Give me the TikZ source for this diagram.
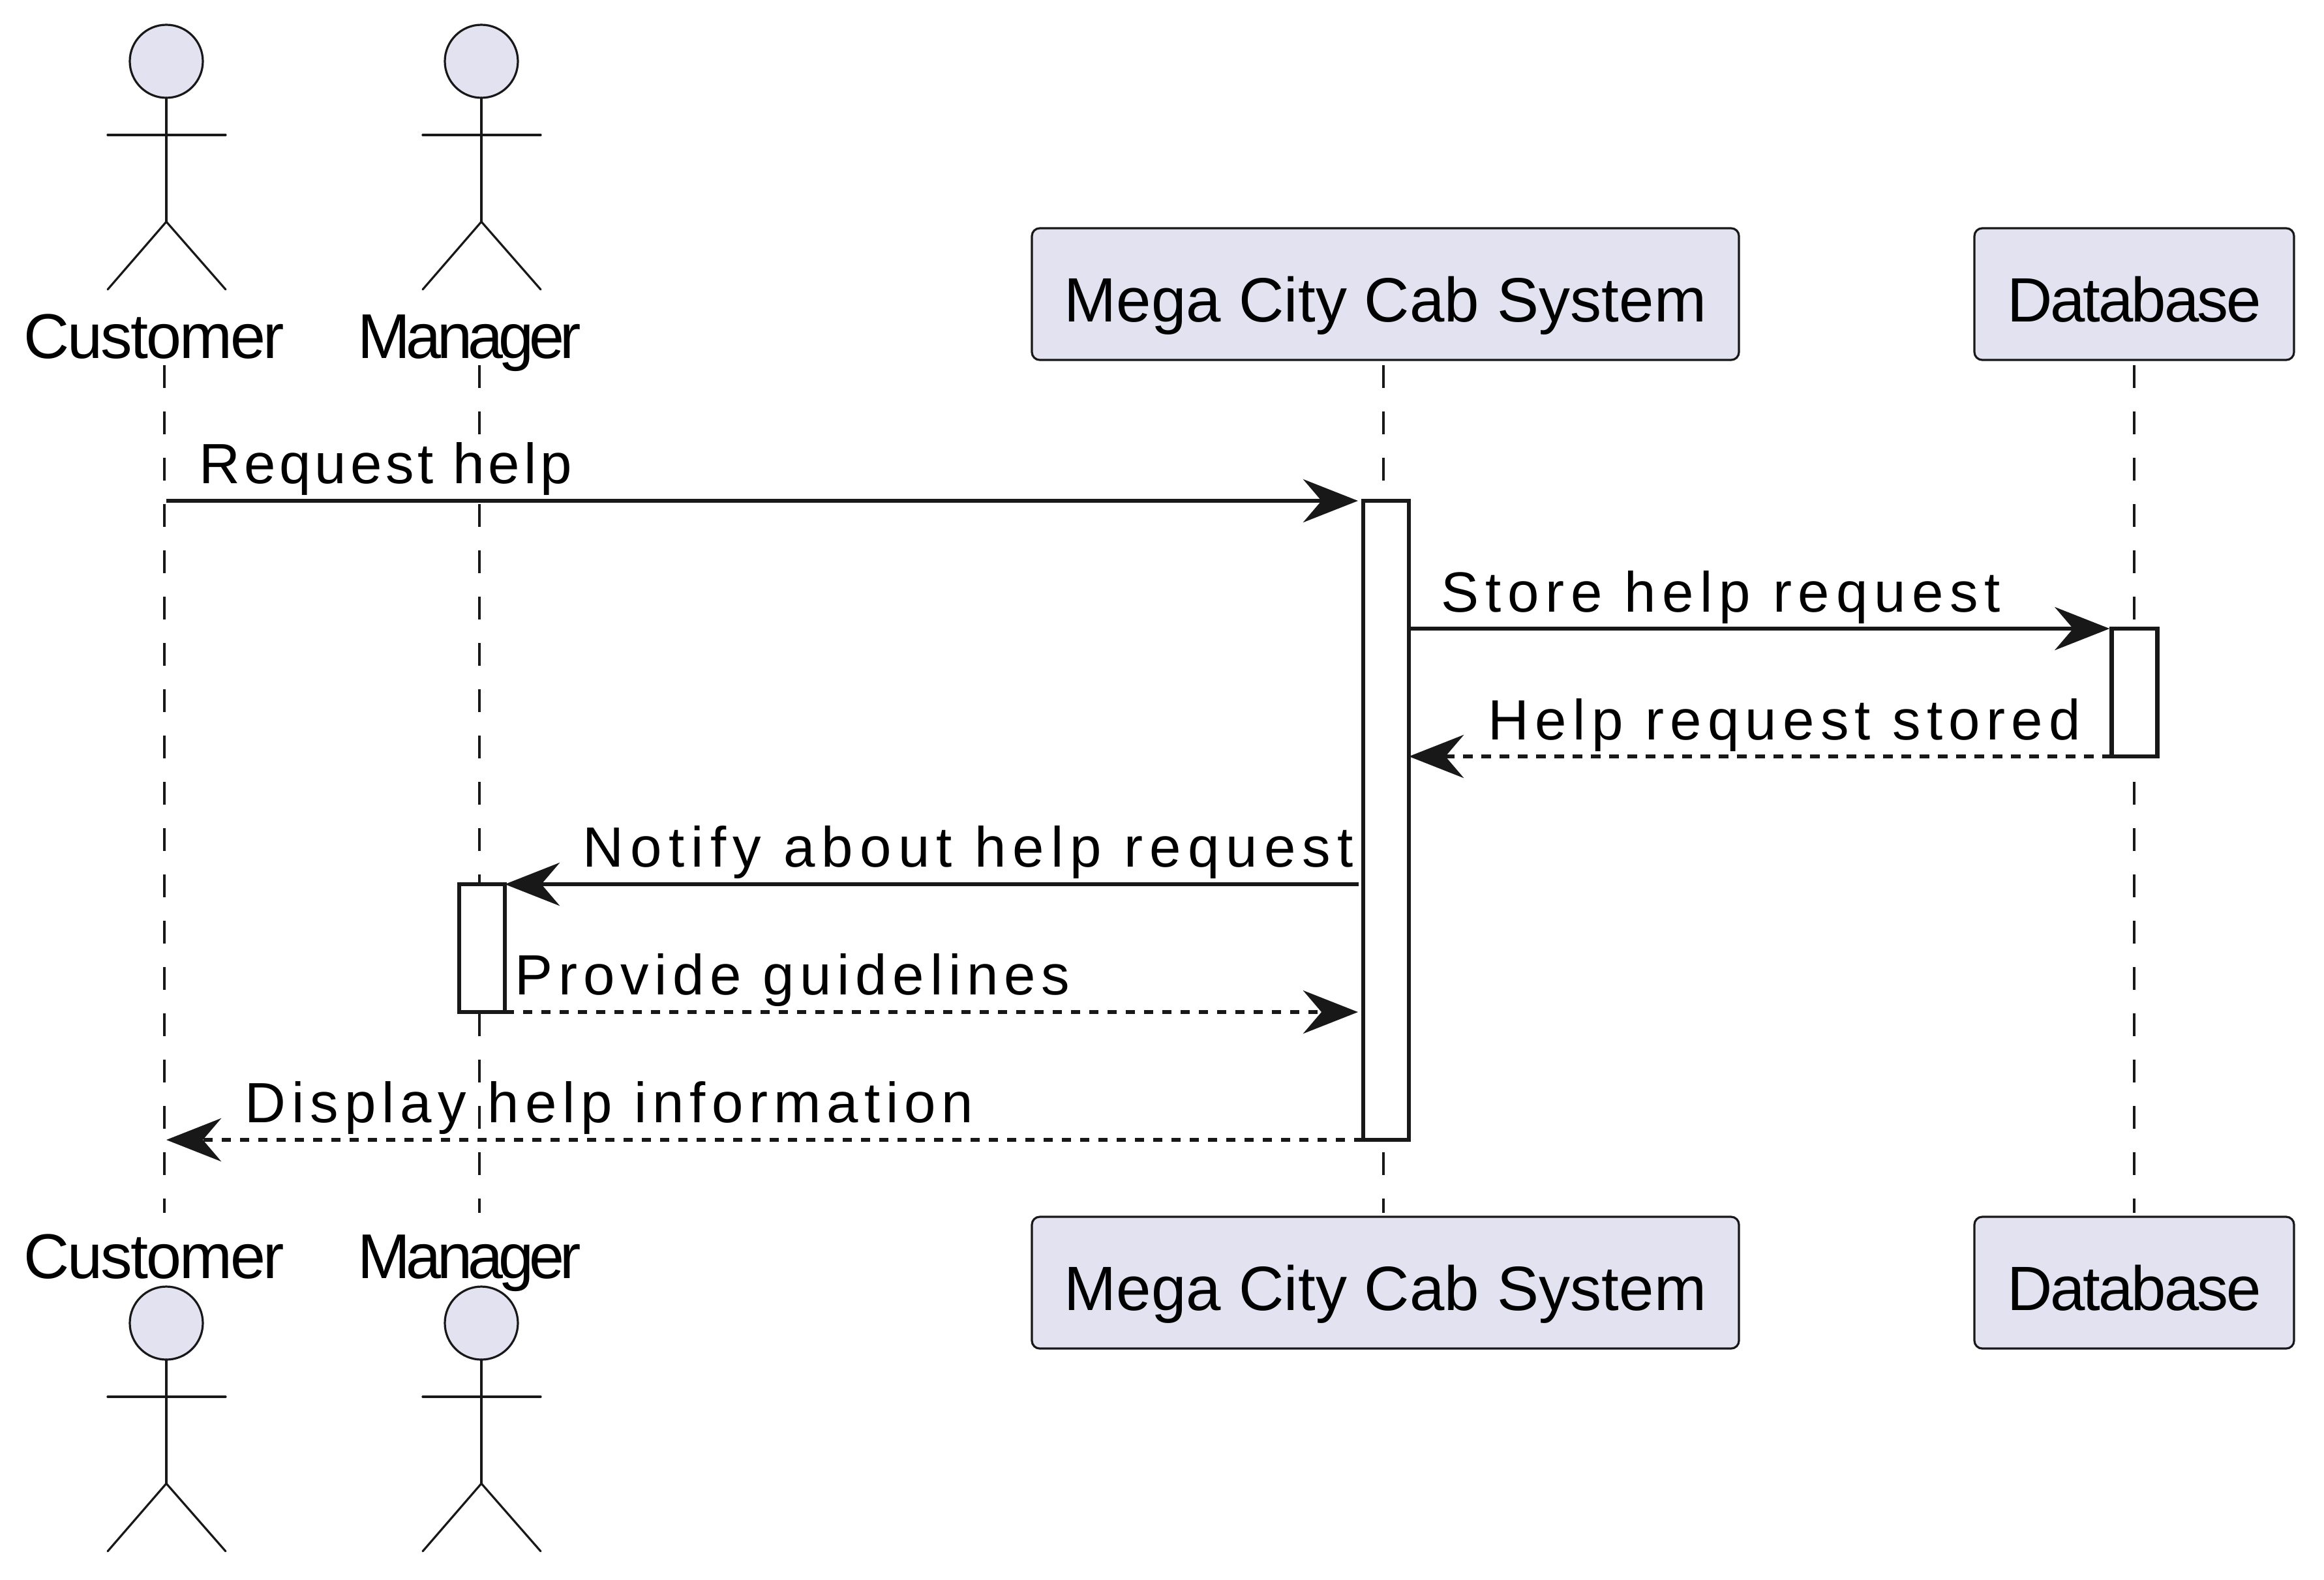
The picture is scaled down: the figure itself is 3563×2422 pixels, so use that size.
\documentclass[tikz,border=0pt]{standalone}
\usepackage{fontspec}
\setmainfont{Liberation Sans}
\usetikzlibrary{shapes.geometric, arrows.meta, positioning}
\definecolor{inkline}{HTML}{181818}
\definecolor{lilacfill}{HTML}{E2E2F0}
\tikzset{
  headnode/.style={ellipse, draw=inkline, fill=lilacfill, line width=0.8pt, minimum width=28pt, minimum height=28pt, inner sep=0pt, outer sep=0pt},
  limb/.style={draw=inkline, line width=0.8pt, line cap=round},
  actorlabel/.style={anchor=base west, inner sep=0pt, text=black, font=\fontsize{24.25pt}{28pt}\selectfont\addfontfeature{LetterSpace=#1}},
  partbox/.style={rectangle, rounded corners=3pt, draw=inkline, fill=lilacfill, line width=0.8pt, minimum height=50.5pt, inner sep=0pt, outer sep=0pt, text=black, text height=21pt, text depth=0pt, font=\fontsize{24pt}{28pt}\selectfont\addfontfeature{LetterSpace=#1}},
  lifeline/.style={draw=inkline, line width=0.8pt, dash pattern=on 8.75pt off 9pt},
  actbar/.style={rectangle, draw=inkline, fill=white, line width=1.7pt, minimum width=17.5pt, inner sep=0pt, outer sep=0pt},
  msgline/.style={draw=inkline, line width=1.7pt, -{Stealth[length=21pt, width=16.5pt, inset=7pt]}},
  msgdash/.style={msgline, dash pattern=on 3.6pt off 3.4pt},
  msglabel/.style={anchor=base west, inner sep=0pt, text=black, font=\fontsize{21.75pt}{26pt}\selectfont\addfontfeature{LetterSpace=#1}}
}
\begin{document}
\begin{tikzpicture}[x=0.25pt, y=-0.25pt]
  \useasboundingbox (0,0) rectangle (3563,2422);

  % Participant boxes
  \node[partbox=0.2, minimum width=271pt] (megaTop) at (2124,451) {Mega City Cab System};
  \node[partbox=-3.2, minimum width=122.5pt] (dbTop) at (3272,451) {Database};
  \node[partbox=0.2, minimum width=271pt] (megaBot) at (2124,1967) {Mega City Cab System};
  \node[partbox=-3.2, minimum width=122.5pt] (dbBot) at (3272,1967) {Database};

  % Actors, top and bottom
  \foreach \nm/\xx/\yy in {custTop/255/94, mgrTop/738/94, custBot/255/2029, mgrBot/738/2029} {
    \node[headnode] (\nm) at (\xx,\yy) {};
    \coordinate (\nm Hip) at (\xx,\yy+246);
    \draw[limb] (\nm.south) -- (\nm Hip);
    \draw[limb] (\xx-90,\yy+113) -- (\xx+91,\yy+113);
    \draw[limb] (\xx-90,\yy+350) -- (\nm Hip) -- (\xx+91,\yy+350);
  }
  \node[actorlabel=-3.1] (custLabelTop) at (36,549) {Customer};
  \node[actorlabel=-7] (mgrLabelTop) at (548,549) {Manager};
  \node[actorlabel=-3.1] (custLabelBot) at (36,1960) {Customer};
  \node[actorlabel=-7] (mgrLabelBot) at (548,1960) {Manager};

  % Lifelines
  \foreach \nm/\xx in {cust/252, mgr/735, mega/2121, db/3272} {
    \coordinate (\nm LifeA) at (\xx,560);
    \coordinate (\nm LifeB) at (\xx,1860);
    \draw[lifeline] (\nm LifeA) -- (\nm LifeB);
  }

  % Activation bars
  \node[actbar, minimum height=245pt] (megaBar) at (2125,1258) {};
  \node[actbar, minimum height=49pt] (dbBar) at (3272.5,1062) {};
  \node[actbar, minimum height=49pt] (mgrBar) at (739,1454) {};

  % Messages
  \draw[msgline, shorten >=2pt] (custTop.south |- megaBar.north) -- (megaBar.north west);
  \draw[msgline, shorten >=0.8pt] (megaBar.east |- dbBar.north) -- (dbBar.north west);
  \draw[msgdash] (dbBar.south west) -- (megaBar.east |- dbBar.south);
  \draw[msgline, shorten <=1.75pt] (megaBar.west |- mgrBar.north) -- (mgrBar.north east);
  \draw[msgdash, shorten >=2pt] (mgrBar.south east) -- (megaBar.west |- mgrBar.south);
  \draw[msgdash] (megaBar.south west) -- (custTop.south |- megaBar.south);

  % Message labels
  \node[msglabel=6.7] (reqLabel) at (305,741) {Request help};
  \node[msglabel=11.2] (storeLabel) at (2209,938) {Store help request};
  \node[msglabel=10.7] (storedLabel) at (2281,1134) {Help request stored};
  \node[msglabel=11.7] (notifyLabel) at (893,1329) {Notify about help request};
  \node[msglabel=10] (guideLabel) at (789,1525) {Provide guidelines};
  \node[msglabel=10.3] (displayLabel) at (375,1721) {Display help information};
\end{tikzpicture}
\end{document}
